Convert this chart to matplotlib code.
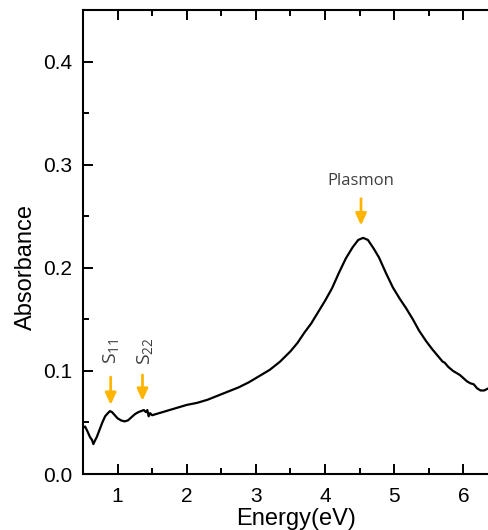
import matplotlib
matplotlib.use("Agg")
import matplotlib.pyplot as plt
from matplotlib.ticker import MultipleLocator

plt.rcParams['font.family'] = ['Liberation Sans', 'DejaVu Sans']
plt.rcParams['mathtext.fontset'] = 'custom'
plt.rcParams['mathtext.rm'] = 'Open Sans'
plt.rcParams['mathtext.it'] = 'Open Sans'

energy = [0.50, 0.53, 0.56, 0.60, 0.63, 0.65, 0.67, 0.70, 0.74, 0.78, 0.82, 0.86,
          0.89, 0.92, 0.96, 1.00, 1.05, 1.10, 1.15, 1.20, 1.25, 1.30, 1.34, 1.38,
          1.41, 1.43, 1.45, 1.47, 1.50, 1.55, 1.60, 1.70, 1.80, 1.90, 2.00, 2.15,
          2.30, 2.45, 2.60, 2.75, 2.90, 3.05, 3.20, 3.35, 3.50, 3.60, 3.70, 3.80,
          3.90, 4.00, 4.10, 4.20, 4.30, 4.40, 4.48, 4.55, 4.62, 4.70, 4.78, 4.88,
          4.98, 5.08, 5.17, 5.27, 5.36, 5.46, 5.55, 5.60, 5.65, 5.70, 5.73, 5.78,
          5.85, 5.90, 5.95, 6.00, 6.05, 6.10, 6.15, 6.20, 6.25, 6.30, 6.36]
absorb = [0.045, 0.046, 0.042, 0.036, 0.033, 0.029, 0.032, 0.036, 0.043, 0.050, 0.056, 0.059,
          0.061, 0.060, 0.057, 0.054, 0.052, 0.051, 0.052, 0.055, 0.058, 0.060, 0.061, 0.062,
          0.060, 0.062, 0.056, 0.059, 0.057, 0.058, 0.059, 0.061, 0.063, 0.065, 0.067, 0.069,
          0.072, 0.076, 0.080, 0.084, 0.089, 0.095, 0.101, 0.109, 0.119, 0.127, 0.137, 0.146,
          0.157, 0.168, 0.180, 0.195, 0.209, 0.220, 0.227, 0.229, 0.227, 0.219, 0.210, 0.195,
          0.181, 0.170, 0.161, 0.150, 0.139, 0.129, 0.121, 0.117, 0.113, 0.109, 0.108, 0.104,
          0.100, 0.098, 0.096, 0.093, 0.090, 0.088, 0.087, 0.083, 0.081, 0.081, 0.083]

labels = ["S$_{\\mathrm{11}}$", "S$_{\\mathrm{22}}$", "Plasmon"]
label_x = [0.91, 1.39, 4.52]

fig = plt.figure(figsize=(4.89, 5.30), dpi=100)
ax = fig.add_axes([83/489, 56/530, 426/489, 464/530])

ax.plot(energy, absorb, color='black', lw=1.6, solid_joinstyle='round')

ax.set_xlim(0.5, 6.66)
ax.set_ylim(0, 0.45)
ax.xaxis.set_major_locator(MultipleLocator(1))
ax.xaxis.set_minor_locator(MultipleLocator(0.5))
ax.yaxis.set_major_locator(MultipleLocator(0.1))
ax.yaxis.set_minor_locator(MultipleLocator(0.05))
ax.tick_params(which='both', direction='in', top=True, right=False, width=1.4,
               labelsize=15, colors='black')
ax.tick_params(which='major', length=7)
ax.tick_params(which='minor', length=4.3)
ax.tick_params(axis='x', pad=9)
ax.tick_params(axis='y', pad=7.5)
ax.set_yticks([0.0, 0.1, 0.2, 0.3, 0.4])
ax.set_yticklabels(['0.0', '0.1', '0.2', '0.3', '0.4'])
for s in ['left', 'bottom', 'top']:
    ax.spines[s].set_linewidth(1.5)
ax.spines['right'].set_visible(False)

fig.text(296/489, 5/530, 'Energy(eV)', fontsize=17, ha='center', va='baseline')
fig.text(26/489, (530-267)/530, 'Absorbance', fontsize=17, ha='center', va='center',
         rotation=90)

arrow_c = '#FFB400'
ap = dict(arrowstyle='-|>,head_length=0.7,head_width=0.32', color=arrow_c, lw=2,
          shrinkA=0, shrinkB=0)
ax.annotate('', xy=(label_x[0] - 0.01, 0.067), xytext=(label_x[0] - 0.01, 0.094), arrowprops=ap)
ax.annotate('', xy=(label_x[1] - 0.03, 0.071), xytext=(label_x[1] - 0.03, 0.096), arrowprops=ap)
ax.annotate('', xy=(label_x[2], 0.241), xytext=(label_x[2], 0.267), arrowprops=ap)

ax.text(label_x[0], 0.119, labels[0], rotation=90, ha='center', va='center',
        fontsize=14, color='#404040', family='Open Sans')
ax.text(label_x[1], 0.119, labels[1], rotation=90, ha='center', va='center',
        fontsize=14, color='#404040', family='Open Sans')
ax.text(label_x[2], 0.284, labels[2], ha='center', va='center',
        fontsize=12, color='#404040', family='Open Sans')

fig.savefig('out.png', dpi=100)
